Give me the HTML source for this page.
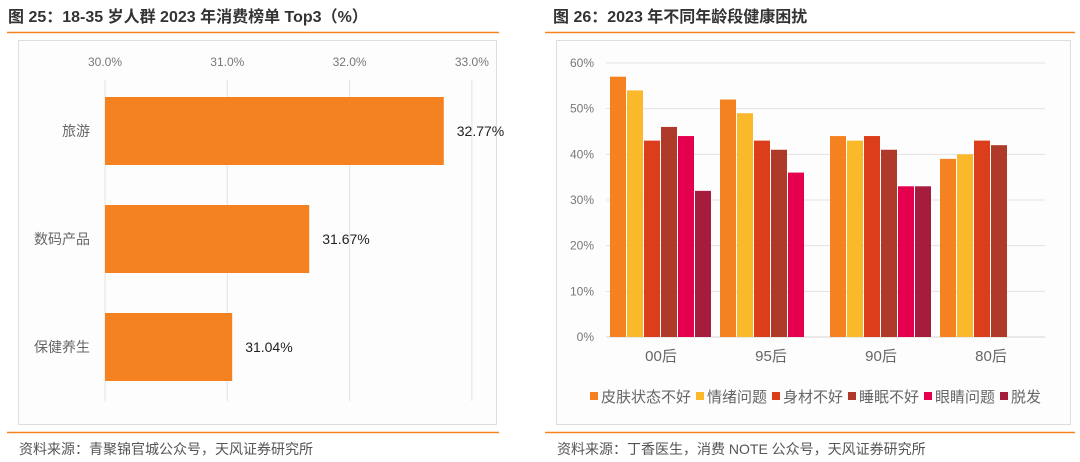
<!DOCTYPE html>
<html><head><meta charset="utf-8"><style>
body{margin:0;width:1080px;height:462px;background:#fff;overflow:hidden;font-family:"Liberation Sans","Noto Sans CJK SC",sans-serif;}
svg{position:absolute;left:0;top:0}
</style></head><body>
<svg width="1080" height="462">
<g id="frames"></g>
<g id="left"></g>
<g id="right"></g>
</svg>
<script>
const leftCats=["旅游","数码产品","保健养生"];
const leftVals=[32.77,31.67,31.04];
const leftTicks=[30,31,32,33];
const rightCats=["00后","95后","90后","80后"];
const rightSeries=["皮肤状态不好","情绪问题","身材不好","睡眠不好","眼睛问题","脱发"];
const rightColors=["#f58220","#f9b92a","#dc3d1a","#b03a2a","#e5004f","#a51c3c"];
const skinVals=[57,52,44,39];
const moodVals=[54,49,43,40];
const bodyVals=[43,43,44,43];
const sleepVals=[46,41,41,42];
const eyeVals=[44,36,33,null];
const hairVals=[32,null,33,null];
const rightVals=[skinVals,moodVals,bodyVals,sleepVals,eyeVals,hairVals];
const rightTicks=[0,10,20,30,40,50,60];
const NS="http://www.w3.org/2000/svg";
function mk(parent,tag,attrs,text){const e=document.createElementNS(NS,tag);for(const k in attrs)e.setAttribute(k,attrs[k]);if(text!=null)e.textContent=text;parent.appendChild(e);return e;}
const svg=document.getElementById('frames');
let e;
e=mk(svg,'text',{x:8,y:22,'font-size':16,'font-weight':'bold',fill:'#333'},'图 25：18-35 岁人群 2023 年消费榜单 Top3（%）');

e=mk(svg,'text',{x:553,y:22,'font-size':16,'font-weight':'bold',fill:'#333'},'图 26：2023 年不同年龄段健康困扰');

[[7,499],[545,1075]].forEach(([a,b])=>{
e=mk(svg,'line',{x1:a,x2:b,y1:32.5,y2:32.5,stroke:'#f58220','stroke-width':1.5});
e=mk(svg,'line',{x1:a,x2:b,y1:432.5,y2:432.5,stroke:'#f58220','stroke-width':1.5});});
e=mk(svg,'rect',{x:18.5,y:40.5,width:478,height:384,fill:'#fdfdfd',stroke:'#ddd'});
e=mk(svg,'rect',{x:556.5,y:40.5,width:514,height:384,fill:'#fdfdfd',stroke:'#ddd'});
e=mk(svg,'text',{x:19,y:454,'font-size':14,fill:'#555'},'资料来源：青聚锦官城公众号，天风证券研究所');
e=mk(svg,'text',{x:557,y:454,'font-size':14,fill:'#555'},'资料来源：丁香医生，消费 NOTE 公众号，天风证券研究所');
// left chart
const L=document.getElementById('left');
const lx=v=>105+(v-30)*122.3;
leftTicks.forEach(t=>{
e=mk(L,'line',{x1:lx(t),x2:lx(t),y1:80,y2:401,stroke:'#e3e3e3'});
e=mk(L,'text',{x:lx(t),y:66,'font-size':12,fill:'#777','text-anchor':'middle'},t.toFixed(1)+'%');});
leftCats.forEach((c,i)=>{
const y0=97+i*108;
e=mk(L,'rect',{x:105,y:y0,width:lx(leftVals[i])-105,height:68,fill:'#f58220'});
e=mk(L,'text',{x:lx(leftVals[i])+13,y:y0+39,'font-size':14,fill:'#222'},leftVals[i].toFixed(2)+'%');
e=mk(L,'text',{x:90,y:y0+39,'font-size':14,fill:'#666','text-anchor':'end'},c);});
// right chart
const R=document.getElementById('right');
const ry=v=>337-v*4.567;
rightTicks.forEach(t=>{
e=mk(R,'line',{x1:606,x2:1045,y1:ry(t),y2:ry(t),stroke:t?'#e3e3e3':'#d5d5d5'});
e=mk(R,'text',{x:594,y:ry(t)+4,'font-size':12,fill:'#777','text-anchor':'end'},t+'%');});
rightCats.forEach((c,ci)=>{
const gx=606+ci*110;
rightVals.forEach((arr,si)=>{const v=arr[ci];if(v==null)return;
e=mk(R,'rect',{x:gx+4+si*17,y:ry(v),width:16,height:ry(0)-ry(v),fill:rightColors[si]});});
e=mk(R,'text',{x:gx+55,y:361,'font-size':15,fill:'#666','text-anchor':'middle'},c);});
let lxp=590;
rightSeries.forEach((s,i)=>{
e=mk(R,'rect',{x:lxp,y:392,width:8,height:8,fill:rightColors[i]});
e=mk(R,'text',{x:lxp+11,y:402,'font-size':15,fill:'#666'},s);
lxp+=11+s.length*15+5;});
</script>
</body></html>
